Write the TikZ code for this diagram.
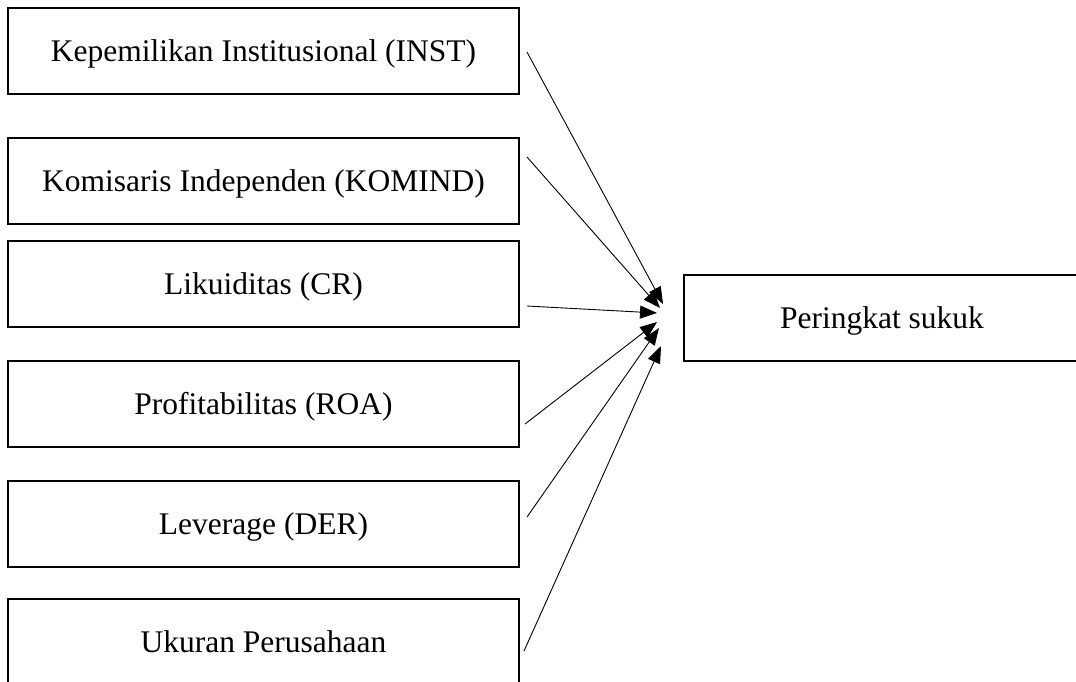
\documentclass[tikz,border=0pt]{standalone}
\usepackage{fontspec}
\setmainfont{Liberation Serif}
\usetikzlibrary{arrows.meta}
\begin{document}
\begin{tikzpicture}[x=1pt,y=-1pt,
  varbox/.style={draw, line width=1.2pt, inner sep=0pt, minimum width=511pt, minimum height=86pt,
    text height=21pt, text depth=0pt, font=\fontsize{31.5}{38}\selectfont},
  outbox/.style={varbox, minimum width=396pt},
  arr/.style={line width=0.9pt, -{Triangle[length=17pt,width=13pt]}}]
\useasboundingbox (0,0) rectangle (1076,681);
\node[varbox] (inst) at (263.5,51) {Kepemilikan Institusional (INST)};
\node[varbox] (komind) at (263.5,181) {Komisaris Independen (KOMIND)};
\node[varbox] (cr) at (263.5,284) {Likuiditas (CR)};
\node[varbox] (roa) at (263.5,404) {Profitabilitas (ROA)};
\node[varbox] (der) at (263.5,524) {Leverage (DER)};
\node[varbox] (size) at (263.5,642) {Ukuran Perusahaan};
\node[outbox] (rating) at (882,318) {Peringkat sukuk};
\coordinate (s1) at (527,52);
\coordinate (s2) at (527,157);
\coordinate (s3) at (527,306);
\coordinate (s4) at (525,424);
\coordinate (s5) at (527,517);
\coordinate (s6) at (524,651);
\coordinate (t1) at (663,304);
\coordinate (t2) at (660,308);
\coordinate (t3) at (657,313);
\coordinate (t4) at (657,322);
\coordinate (t5) at (659,328);
\coordinate (t6) at (661,346);
\draw[arr] (s1) -- (t1);
\draw[arr] (s2) -- (t2);
\draw[arr] (s3) -- (t3);
\draw[arr] (s4) -- (t4);
\draw[arr] (s5) -- (t5);
\draw[arr] (s6) -- (t6);
\end{tikzpicture}
\end{document}
